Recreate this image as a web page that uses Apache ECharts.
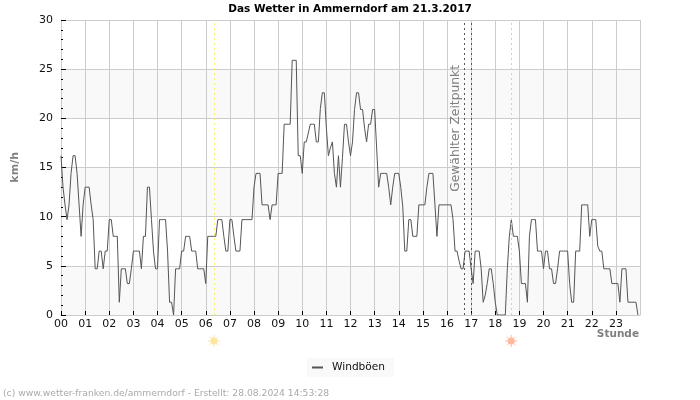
<!DOCTYPE html>
<html>
<head>
<meta charset="utf-8">
<style>html,body{margin:0;padding:0;background:#fff}</style>
<script src="https://cdn.jsdelivr.net/npm/echarts@6/dist/echarts.min.js"></script>
</head>
<body>
<div id="chart" style="width:700px;height:400px"></div>
<script>
const FONT = "DejaVu Sans"
const hourLabels = ["00","01","02","03","04","05","06","07","08","09","10","11","12","13","14","15","16","17","18","19","20","21","22","23"]
// one value every 5 minutes, one row per hour
const windGusts = [
    16.2,13,11.2,9.7,11.2,14.4,16.2,16.2,14.4,11.2,8,11.2,
    13,13,13,11.2,9.7,4.7,4.7,6.5,6.5,4.7,6.5,6.5,
    9.7,9.7,8,8,8,1.3,4.7,4.7,4.7,3.2,3.2,4.7,
    6.5,6.5,6.5,6.5,4.7,8,8,13,13,9.7,6.5,4.7,
    4.7,9.7,9.7,9.7,9.7,6.5,1.3,1.3,0,4.7,4.7,4.7,
    6.5,6.5,8,8,8,6.5,6.5,6.5,4.7,4.7,4.7,4.7,
    3.2,8,8,8,8,8,9.7,9.7,9.7,8,6.5,6.5,
    9.7,9.7,8,6.5,6.5,6.5,9.7,9.7,9.7,9.7,9.7,9.7,
    13,14.4,14.4,14.4,11.2,11.2,11.2,11.2,9.7,11.2,11.2,11.2,
    14.4,14.4,14.4,19.4,19.4,19.4,19.4,25.9,25.9,25.9,16.2,16.2,
    14.4,17.6,17.6,18.5,19.4,19.4,19.4,17.6,17.6,21,22.6,22.6,
    19,16.2,17,17.6,14.4,13,16.2,13,16,19.4,19.4,17.6,
    16.2,17.6,20.9,22.6,22.6,20.9,20.9,19,17.6,19.4,19.4,20.9,
    20.9,17,13,14.4,14.4,14.4,14.4,13,11.2,13,14.4,14.4,
    14.4,13,11,6.5,6.5,9.7,9.7,8,8,8,11.2,11.2,
    11.2,11.2,13,14.4,14.4,14.4,11.2,8,11.2,11.2,11.2,11.2,
    11.2,11.2,11.2,9.7,6.5,6.5,5.5,4.7,4.7,6.5,6.5,6.5,
    4.7,3.2,6.5,6.5,6.5,4.7,1.3,2,3.2,4.7,4.7,3.2,
    1.3,0,0,0,0,0,4.7,8,9.7,8,8,8,
    6.5,3.2,3.2,3.2,1.3,8,9.7,9.7,9.7,6.5,6.5,6.5,
    4.7,6.5,6.5,4.7,4.7,3.2,3.2,4.7,6.5,6.5,6.5,6.5,
    6.5,3.2,1.3,1.3,6.5,6.5,6.5,11.2,11.2,11.2,11.2,8,
    9.7,9.7,9.7,7,6.5,6.5,4.7,4.7,4.7,4.7,3.2,3.2,
    3.2,3.2,1.3,4.7,4.7,4.7,1.3,1.3,1.3,1.3,1.3,0,
]
const sunriseHour = 6.34
const sunsetHour = 18.66
const selectedHours = [16.73, 17.0]

const myChart = echarts.init(document.getElementById("chart"))
myChart.setOption({
    animation: false,
    backgroundColor: "#fff",
    textStyle: { fontFamily: FONT },
    title: {
        text: "Das Wetter in Ammerndorf am 21.3.2017",
        left: "center",
        top: 4,
        padding: 0,
        textStyle: { fontFamily: FONT, fontSize: 10.5, fontWeight: "bold", color: "#000" },
    },
    legend: {
        left: 307,
        top: 358,
        padding: [4, 9, 4, 5],
        backgroundColor: "#f9f9f9",
        itemWidth: 11,
        itemHeight: 2,
        itemGap: 8,
        icon: "rect",
        textStyle: { fontFamily: FONT, fontSize: 10.6, color: "#111", padding: [0, 0, 0, 4] },
        data: ["Windböen"],
    },
    grid: { left: 61, right: 60, top: 20, bottom: 85 },
    xAxis: {
        type: "value",
        min: 0,
        max: 24,
        interval: 1,
        axisLine: { lineStyle: { color: "#ccc", width: 1 } },
        axisTick: { inside: true, length: 4, lineStyle: { color: "#000" } },
        axisLabel: {
            showMaxLabel: false,
            margin: 4,
            fontSize: 11,
            color: "#111",
            formatter: v => hourLabels[v] || "",
        },
        splitLine: { show: true, lineStyle: { color: "#ccc" } },
    },
    yAxis: {
        type: "value",
        min: 0,
        max: 30,
        interval: 5,
        axisLine: { show: true, lineStyle: { color: "#ccc", width: 1 } },
        axisTick: { inside: true, length: 5, lineStyle: { color: "#000" } },
        minorTick: { show: true, splitNumber: 5, length: 2, lineStyle: { color: "#000" } },
        axisLabel: { margin: 8, fontSize: 11, color: "#111" },
        splitLine: { show: true, lineStyle: { color: "#ccc" } },
        splitArea: { show: true, areaStyle: { color: ["#f9f9f9", "#fff"] } },
    },
    series: [
        {
            name: "Windböen",
            type: "line",
            showSymbol: false,
            symbol: "none",
            lineStyle: { color: "#555", width: 1 },
            itemStyle: { color: "#555" },
            data: windGusts.map((v, i) => [i / 12, v]),
            markLine: {
                silent: true,
                symbol: "none",
                label: { show: false },
                data: [
                    { xAxis: sunriseHour, lineStyle: { color: "#f7ee70", type: [2, 3], width: 1 } },
                    { xAxis: sunsetHour, lineStyle: { color: "#f5c98e", type: [2, 3], width: 1 } },
                    { xAxis: selectedHours[0], lineStyle: { color: "#555", type: [2, 3], width: 1 } },
                    { xAxis: selectedHours[1], lineStyle: { color: "#555", type: [2, 3], width: 1 } },
                ],
            },
        },
    ],
})

// sun icons sit under the axis, outside the value range, so place them from the axis scale
function sunIcon(hour, color) {
    const rays = [0, 1, 2, 3, 4, 5, 6, 7].map(k => {
        const a = k * Math.PI / 4
        return {
            type: "line",
            shape: { x1: 3 * Math.cos(a), y1: 3 * Math.sin(a), x2: 6 * Math.cos(a), y2: 6 * Math.sin(a) },
            style: { stroke: color, lineWidth: 1 },
        }
    })
    return {
        type: "group",
        z: 10,
        x: myChart.convertToPixel({ xAxisIndex: 0 }, hour),
        y: 341,
        children: rays.concat({ type: "circle", shape: { cx: 0, cy: 0, r: 3.5 }, style: { fill: color } }),
    }
}
myChart.setOption({
    graphic: [
        {
            type: "text", z: 10, left: 10, top: 152, rotation: Math.PI / 2,
            style: { text: "km/h", fontFamily: FONT, fontSize: 11, fontWeight: "bold", fill: "#808080" },
        },
        {
            type: "text", z: 10, right: 61, top: 329,
            style: { text: "Stunde", fontFamily: FONT, fontSize: 10.5, fontWeight: "bold", fill: "#808080" },
        },
        {
            type: "text", z: 10, left: 3, top: 389,
            style: { text: "(c) www.wetter-franken.de/ammerndorf - Erstellt: 28.08.2024 14:53:28", fontFamily: FONT, fontSize: 9.2, fill: "#aaa" },
        },
        {
            type: "text", z: 10, left: 450, top: 65, rotation: Math.PI / 2,
            style: { text: "Gewählter Zeitpunkt", fontFamily: FONT, fontSize: 12.3, fill: "#808080" },
        },
        sunIcon(sunriseHour, "#fde6a0"),
        sunIcon(sunsetHour, "#ffb9a0"),
    ],
})
</script>
</body>
</html>
